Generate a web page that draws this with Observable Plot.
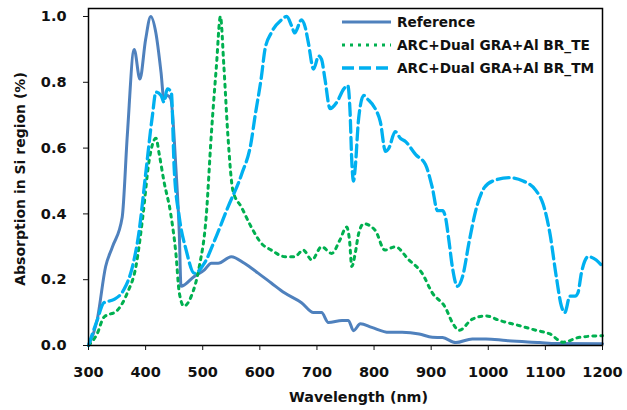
<!DOCTYPE html>
<html>
<head>
<meta charset="utf-8">
<script src="https://cdn.jsdelivr.net/npm/d3@7"></script>
<script src="https://cdn.jsdelivr.net/npm/@observablehq/plot@0.6"></script>
<style>
  html, body { margin: 0; padding: 0; background: #fff; }
  #wrap { position: relative; width: 627px; height: 410px; font-family: "DejaVu Sans", sans-serif; font-weight: 700; }
  #legend { position: absolute; left: 341px; top: 10.5px; font-size: 13.7px; color: #111; }
  .row { display: flex; align-items: center; height: 23px; }
  .row svg { margin-right: 5px; }
</style>
</head>
<body>
<div id="wrap"><div id="legend"></div></div>
<script>
const refWl = [300,315,330,342,359,368,380,390,400,409,418,427,432,438,444,453,459,462,485,503,515,527,550,573,597,620,643,673,694,708,720,744,755,764,776,796,826,849,879,902,920,943,972,996,1031,1090,1119,1200];
const refVal = [0,0.076,0.24,0.30,0.39,0.64,0.90,0.81,0.93,1.0,0.95,0.83,0.75,0.76,0.75,0.54,0.34,0.18,0.21,0.23,0.25,0.25,0.27,0.25,0.22,0.19,0.16,0.13,0.10,0.10,0.07,0.076,0.076,0.045,0.066,0.055,0.04,0.04,0.035,0.025,0.024,0.009,0.02,0.02,0.015,0.009,0.006,0.005];

const teWl = [300,315,327,350,368,383,395,406,418,424,432,444,453,459,467,480,494,506,515,524,531,537,544,553,568,585,603,620,644,661,676,691,708,726,740,752,757,761,767,773,782,802,819,837,861,884,902,925,937,949,972,996,1020,1055,1084,1108,1131,1160,1200];
const teVal = [0,0.035,0.086,0.106,0.16,0.24,0.39,0.56,0.63,0.58,0.50,0.40,0.28,0.16,0.12,0.15,0.24,0.39,0.64,0.85,1.0,0.85,0.64,0.47,0.42,0.36,0.31,0.29,0.27,0.27,0.29,0.26,0.30,0.28,0.32,0.36,0.32,0.24,0.28,0.34,0.37,0.35,0.29,0.30,0.26,0.22,0.16,0.115,0.07,0.046,0.08,0.09,0.076,0.06,0.046,0.035,0.01,0.025,0.03];

const tmWl = [300,315,327,345,362,377,388,400,412,418,427,432,438,445,450,459,471,485,503,521,544,568,585,591,603,609,620,638,647,656,661,673,679,685,694,703,708,714,723,735,747,754,758,761,764,767,773,782,788,802,811,820,826,837,846,855,873,890,902,911,920,925,931,937,946,955,967,978,993,1008,1037,1061,1084,1096,1108,1119,1128,1134,1143,1152,1157,1163,1175,1189,1200];
const tmVal = [0,0.076,0.13,0.14,0.17,0.24,0.34,0.52,0.70,0.77,0.76,0.74,0.78,0.77,0.54,0.39,0.29,0.22,0.25,0.32,0.42,0.52,0.62,0.69,0.82,0.90,0.95,0.99,1.0,0.97,0.95,0.99,0.97,0.92,0.84,0.88,0.87,0.81,0.72,0.74,0.78,0.79,0.71,0.56,0.50,0.54,0.69,0.76,0.75,0.72,0.68,0.59,0.60,0.65,0.63,0.62,0.58,0.55,0.48,0.41,0.41,0.39,0.32,0.24,0.18,0.21,0.32,0.41,0.48,0.50,0.51,0.50,0.47,0.43,0.34,0.21,0.12,0.10,0.15,0.15,0.16,0.22,0.27,0.26,0.24];

const xTicks = [300,400,500,600,700,800,900,1000,1100,1200];
const yTicks = [0,0.2,0.4,0.6,0.8,1.0];
const seriesNames = ["Reference", "ARC+Dual GRA+Al BR_TE", "ARC+Dual GRA+Al BR_TM"];
const xTitle = "Wavelength (nm)";
const yTitle = "Absorption in Si region (%)";

const styles = [
  {stroke: "#4F81BD", strokeWidth: 3, dash: null},
  {stroke: "#00B050", strokeWidth: 3, dash: "3 5"},
  {stroke: "#00B0F0", strokeWidth: 3.3, dash: "12 5"}
];

const toRows = (wl, v) => wl.map((w, i) => ({wl: w, v: v[i]}));
const datasets = [toRows(refWl, refVal), toRows(teWl, teVal), toRows(tmWl, tmVal)];

const FONT = "'DejaVu Sans', sans-serif";

const chart = Plot.plot({
  width: 627,
  height: 410,
  marginLeft: 88,
  marginRight: 25,
  marginTop: 8,
  marginBottom: 65,
  style: {fontFamily: FONT, fontWeight: 700, fontSize: "14.5px", color: "#111", background: "#fff"},
  x: {domain: [300, 1200]},
  y: {domain: [0, 1.0243]},
  marks: [
    ...datasets.map((d, i) => Plot.line(d, {
      x: "wl", y: "v", stroke: styles[i].stroke, strokeWidth: styles[i].strokeWidth,
      strokeDasharray: styles[i].dash, curve: "monotone-x"
    })),
    Plot.frame({stroke: "#000", strokeWidth: 1.5}),
    Plot.axisX({ticks: xTicks, tickFormat: d3.format("d"), tickSize: 5, tickPadding: 16, label: null, fontSize: 14.5, fontWeight: 700}),
    Plot.axisY({ticks: yTicks, tickFormat: d => d.toFixed(1), tickSize: 5, tickPadding: 17, label: null, fontSize: 14.5, fontWeight: 700}),
    Plot.text([xTitle], {text: d => d, frameAnchor: "bottom", dy: 52, dx: 13, lineAnchor: "middle", fontSize: 14.3, fontWeight: 700, fill: "#111"}),
    Plot.text([yTitle], {text: d => d, frameAnchor: "left", dx: -68, dy: 2, rotate: -90, lineAnchor: "middle", textAnchor: "middle", fontSize: 14, fontWeight: 700, fill: "#111"})
  ]
});
document.getElementById("wrap").prepend(chart);

const legend = document.getElementById("legend");
seriesNames.forEach((name, i) => {
  const row = document.createElement("div");
  row.className = "row";
  const s = styles[i];
  row.innerHTML = `<svg width="51" height="10"><line x1="1" y1="5" x2="50" y2="5" stroke="${s.stroke}" stroke-width="${s.strokeWidth}" ${s.dash ? `stroke-dasharray="${s.dash}"` : ""}/></svg><span>${name}</span>`;
  legend.appendChild(row);
});
</script>
</body>
</html>
